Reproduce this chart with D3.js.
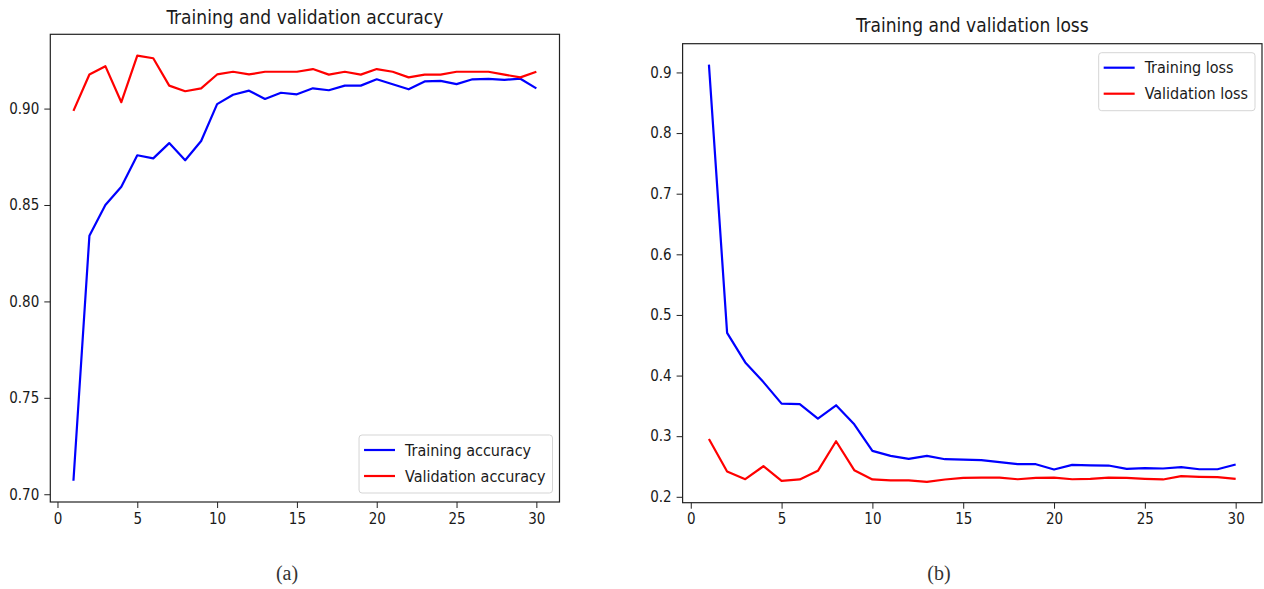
<!DOCTYPE html>
<html>
<head>
<meta charset="utf-8">
<script src="https://cdn.jsdelivr.net/npm/d3@7"></script>
<style>
  body { margin: 0; background: #fff; }
  svg text { font-family: "DejaVu Sans", sans-serif; font-stretch: semi-condensed; fill: #1a1a1a; }
  .tick line { stroke: #222; }
  .domain { display: none; }
  .caption { font-family: "Liberation Serif", serif; font-stretch: normal; fill: #333; }
</style>
</head>
<body>
<div id="chart"></div>
<script>
// epochs 1..30
var epochs = d3.range(1, 31);

var trainAcc = [0.707, 0.834, 0.850, 0.8595, 0.8758, 0.8742, 0.8821, 0.8732, 0.8832, 0.9023,
                0.9072, 0.9093, 0.9050, 0.9082, 0.9074, 0.9105, 0.9095, 0.9119, 0.9119, 0.9152,
                0.9126, 0.9100, 0.9141, 0.9144, 0.9127, 0.9152, 0.9154, 0.9149, 0.9155, 0.9105];
var valAcc   = [0.8988, 0.9177, 0.9220, 0.9033, 0.9275, 0.9261, 0.9119, 0.9090, 0.9105, 0.9177,
                0.9191, 0.9177, 0.9191, 0.9191, 0.9191, 0.9205, 0.9176, 0.9191, 0.9176, 0.9205,
                0.9191, 0.9162, 0.9176, 0.9176, 0.9191, 0.9191, 0.9191, 0.9176, 0.9162, 0.9191];

var trainLoss = [0.913, 0.4705, 0.4217, 0.3892, 0.3537, 0.3530, 0.3290, 0.3510, 0.3196, 0.2757,
                 0.2675, 0.2625, 0.2675, 0.2620, 0.2615, 0.2604, 0.2571, 0.2538, 0.2538, 0.2450,
                 0.2527, 0.2520, 0.2516, 0.2461, 0.2472, 0.2467, 0.2489, 0.2455, 0.2455, 0.2533];
var valLoss   = [0.2955, 0.2418, 0.2290, 0.2505, 0.2264, 0.2286, 0.2428, 0.2916, 0.2439, 0.2286,
                 0.2270, 0.2270, 0.2247, 0.2286, 0.2313, 0.2318, 0.2318, 0.2290, 0.2313, 0.2318,
                 0.2290, 0.2297, 0.2318, 0.2313, 0.2297, 0.2286, 0.2340, 0.2330, 0.2324, 0.2297];

var xTicks = [0, 5, 10, 15, 20, 25, 30];
var accTicks = [0.70, 0.75, 0.80, 0.85, 0.90];
var lossTicks = [0.2, 0.3, 0.4, 0.5, 0.6, 0.7, 0.8, 0.9];

var svg = d3.select('#chart')
  .append('svg')
  .attr('width', 1264)
  .attr('height', 589);

// matplotlib style 5% margins
function padded(arr) {
  var ext = d3.extent(arr), r = ext[1] - ext[0];
  return [ext[0] - 0.05 * r, ext[1] + 0.05 * r];
}

function panel(o) {
  var g = svg.append('g');
  var allY = o.series[0].values.concat(o.series[1].values);

  var x = d3.scaleLinear().domain(padded(epochs)).range([o.left, o.right]);
  var y = d3.scaleLinear().domain(padded(allY)).range([o.bottom, o.top]);

  g.append('g')
    .attr('transform', 'translate(0,' + o.bottom + ')')
    .call(d3.axisBottom(x).tickValues(xTicks).tickSize(6).tickPadding(5))
    .selectAll('text').style('font-size', '15px');

  g.append('g')
    .attr('transform', 'translate(' + o.left + ',0)')
    .call(d3.axisLeft(y).tickValues(o.yTicks).tickFormat(d3.format(o.yFormat)).tickSize(6).tickPadding(5))
    .selectAll('text').style('font-size', '15px');

  var line = d3.line()
    .x(function(d, i){ return x(epochs[i]); })
    .y(function(d){ return y(d); });

  o.series.forEach(function(s){
    g.append('path')
      .datum(s.values)
      .attr('d', line)
      .style('fill', 'none')
      .style('stroke', s.color)
      .style('stroke-width', 2.2)
      .style('stroke-linejoin', 'round');
  });

  //frame
  g.append('rect')
    .attr('x', o.left).attr('y', o.top)
    .attr('width', o.right - o.left).attr('height', o.bottom - o.top)
    .style('fill', 'none').style('stroke', '#222').style('stroke-width', 1.2);

  g.append('text')
    .attr('x', (o.left + o.right) / 2)
    .attr('y', o.titleY)
    .attr('text-anchor', 'middle')
    .style('font-size', '19px')
    .text(o.title);

  //legend
  var lg = g.append('g');
  var box = lg.append('rect')
    .attr('rx', 3)
    .style('fill', 'white').style('fill-opacity', 0.8)
    .style('stroke', '#d5d5d5').style('stroke-width', 1);
  var maxW = 0;
  o.series.forEach(function(s, i){
    var yy = 15 + i * 26;
    lg.append('line')
      .attr('x1', 5).attr('x2', 36).attr('y1', yy).attr('y2', yy)
      .style('stroke', s.color).style('stroke-width', 2.2);
    var t = lg.append('text')
      .attr('x', 46).attr('y', yy + 5.5)
      .style('font-size', '16px')
      .text(s.name);
    maxW = Math.max(maxW, t.node().getComputedTextLength());
  });
  var w = 46 + maxW + 7, h = 58;
  box.attr('width', w).attr('height', h);
  var lx = o.right - 7 - w;
  var ly = o.legendPos === 'top' ? o.top + 9 : o.bottom - 9 - h;
  lg.attr('transform', 'translate(' + lx + ',' + ly + ')');

  g.append('text')
    .attr('class', 'caption')
    .attr('x', o.captionX).attr('y', 580)
    .attr('text-anchor', 'middle')
    .style('font-size', '20px')
    .text(o.caption);
}

panel({
  left: 50.3, right: 559.5, top: 34.3, bottom: 502,
  title: 'Training and validation accuracy', titleY: 24,
  yTicks: accTicks, yFormat: '.2f',
  series: [
    {name: 'Training accuracy', values: trainAcc, color: '#0000ff'},
    {name: 'Validation accuracy', values: valAcc, color: '#ff0000'}
  ],
  legendPos: 'bottom', caption: '(a)', captionX: 287
});

panel({
  left: 682.6, right: 1262, top: 43.7, bottom: 502.7,
  title: 'Training and validation loss', titleY: 32,
  yTicks: lossTicks, yFormat: '.1f',
  series: [
    {name: 'Training loss', values: trainLoss, color: '#0000ff'},
    {name: 'Validation loss', values: valLoss, color: '#ff0000'}
  ],
  legendPos: 'top', caption: '(b)', captionX: 939
});
</script>
</body>
</html>
